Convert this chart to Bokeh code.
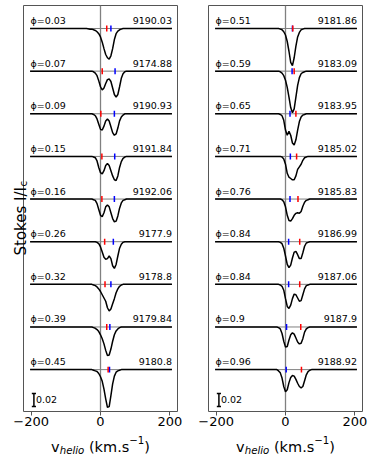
from bokeh.plotting import figure
from bokeh.models import Range1d, FixedTicker, Span, GridBox, Column
from bokeh.core.properties import value
from bokeh.embed import file_html
from bokeh.resources import INLINE

# velocity grid (km/s) on which the profiles are read
velocity = [-203, -40, -30, -25, -20, -15, -10, -5, 0, 5, 10, 15, 20, 25, 30, 35,
            40, 45, 50, 55, 60, 65, 70, 75, 80, 90, 206]

# ---------------- left panel ----------------
left_phase = [0.03, 0.07, 0.09, 0.15, 0.16, 0.26, 0.32, 0.39, 0.45]
left_date = ["9190.03", "9174.88", "9190.93", "9191.84", "9192.06", "9177.9", "9178.8", "9179.84", "9180.8"]
left_red = [18, 5, 1, 4, 4, 12, 13, 18, 22]
left_blue = [30, 42, 40, 41, 40, 37, 30, 27, 26]
left_profiles = [
    [1, 1, 0.999, 0.999, 0.998, 0.997, 0.995, 0.992, 0.987, 0.979, 0.969, 0.960, 0.955, 0.953, 0.958, 0.969, 0.983, 0.992, 0.996, 0.998, 0.999, 1, 1, 1, 1, 1, 1],
    [1, 1, 1, 1, 0.999, 0.997, 0.993, 0.985, 0.976, 0.971, 0.974, 0.981, 0.987, 0.988, 0.984, 0.974, 0.964, 0.960, 0.964, 0.976, 0.989, 0.996, 0.999, 1, 1, 1, 1],
    [1, 1, 1, 1, 0.999, 0.997, 0.992, 0.984, 0.976, 0.975, 0.981, 0.989, 0.992, 0.989, 0.980, 0.971, 0.967, 0.969, 0.978, 0.989, 0.995, 0.998, 1, 1, 1, 1, 1],
    [1, 1, 1, 1, 0.999, 0.998, 0.993, 0.983, 0.975, 0.973, 0.978, 0.986, 0.989, 0.986, 0.978, 0.970, 0.964, 0.963, 0.970, 0.983, 0.992, 0.997, 0.999, 1, 1, 1, 1],
    [1, 1, 1, 1, 0.999, 0.998, 0.993, 0.984, 0.975, 0.973, 0.979, 0.988, 0.991, 0.988, 0.979, 0.970, 0.965, 0.966, 0.974, 0.986, 0.994, 0.998, 0.999, 1, 1, 1, 1],
    [1, 1, 1, 1, 1, 1, 0.999, 0.997, 0.992, 0.984, 0.976, 0.973, 0.974, 0.978, 0.974, 0.963, 0.959, 0.965, 0.978, 0.990, 0.996, 0.999, 1, 1, 1, 1, 1],
    [1, 1, 1, 1, 0.999, 0.998, 0.996, 0.993, 0.989, 0.984, 0.979, 0.974, 0.964, 0.959, 0.962, 0.970, 0.978, 0.987, 0.993, 0.997, 0.999, 1, 1, 1, 1, 1, 1],
    [1, 1, 1, 1, 0.999, 0.998, 0.996, 0.993, 0.988, 0.982, 0.974, 0.964, 0.956, 0.957, 0.966, 0.978, 0.988, 0.994, 0.997, 0.999, 1, 1, 1, 1, 1, 1, 1],
    [1, 1, 1, 1, 0.999, 0.998, 0.997, 0.994, 0.989, 0.982, 0.970, 0.955, 0.942, 0.943, 0.960, 0.978, 0.990, 0.996, 0.998, 0.999, 1, 1, 1, 1, 1, 1, 1],
]

# ---------------- right panel ----------------
right_phase = [0.51, 0.59, 0.65, 0.71, 0.76, 0.84, 0.84, 0.9, 0.96]
right_date = ["9181.86", "9183.09", "9183.95", "9185.02", "9185.83", "9186.99", "9187.06", "9187.9", "9188.92"]
right_red = [21, 25, 30, 32, 36, 41, 41, 44, 46]
right_blue = [20, 19, 13, 14, 13, 9, 9, 3, 2]
right_profiles = [
    [1, 1, 1, 1, 1, 0.999, 0.998, 0.995, 0.990, 0.980, 0.965, 0.948, 0.943, 0.955, 0.973, 0.987, 0.994, 0.998, 0.999, 1, 1, 1, 1, 1, 1, 1, 1],
    [1, 1, 1, 1, 1, 0.999, 0.997, 0.993, 0.986, 0.975, 0.960, 0.944, 0.936, 0.942, 0.960, 0.978, 0.990, 0.996, 0.998, 0.999, 1, 1, 1, 1, 1, 1, 1],
    [1, 1, 1, 1, 1, 0.999, 0.997, 0.990, 0.975, 0.967, 0.973, 0.967, 0.955, 0.952, 0.960, 0.975, 0.988, 0.995, 0.998, 0.999, 1, 1, 1, 1, 1, 1, 1],
    [1, 1, 1, 1, 1, 1, 0.999, 0.996, 0.988, 0.974, 0.968, 0.966, 0.964, 0.964, 0.970, 0.980, 0.984, 0.988, 0.994, 0.998, 0.999, 1, 1, 1, 1, 1, 1],
    [1, 1, 1, 1, 1, 1, 0.999, 0.996, 0.988, 0.975, 0.967, 0.966, 0.970, 0.975, 0.978, 0.979, 0.978, 0.981, 0.989, 0.995, 0.998, 0.999, 1, 1, 1, 1, 1],
    [1, 1, 1, 1, 1, 0.999, 0.997, 0.990, 0.978, 0.965, 0.960, 0.964, 0.975, 0.984, 0.985, 0.980, 0.974, 0.974, 0.983, 0.993, 0.998, 0.999, 1, 1, 1, 1, 1],
    [1, 1, 1, 1, 1, 0.999, 0.997, 0.991, 0.978, 0.966, 0.963, 0.968, 0.978, 0.985, 0.984, 0.979, 0.974, 0.975, 0.984, 0.993, 0.998, 0.999, 1, 1, 1, 1, 1],
    [1, 1, 1, 1, 0.999, 0.997, 0.990, 0.978, 0.969, 0.970, 0.980, 0.988, 0.991, 0.989, 0.983, 0.977, 0.974, 0.975, 0.982, 0.992, 0.997, 0.999, 1, 1, 1, 1, 1],
    [1, 1, 1, 1, 0.998, 0.995, 0.987, 0.974, 0.966, 0.969, 0.980, 0.988, 0.991, 0.990, 0.985, 0.979, 0.974, 0.972, 0.974, 0.983, 0.992, 0.997, 0.999, 1, 1, 1, 1],
]

OFFSET = 0.0656      # vertical shift between successive spectra
SCALE_BAR = 0.02     # length of the intensity scale bar
FONT = "DejaVu Sans"
FRAME_COL = "#555555"

X_RANGE = (-222, 222)
Y_RANGE = (0.41077, 1.03538)
PAGE_W, PAGE_H = 374, 457


def make_panel(phases, dates, reds, blues, profiles, is_left):
    p = figure(frame_width=154, frame_height=406,
               x_range=Range1d(*X_RANGE), y_range=Range1d(*Y_RANGE),
               output_backend="svg", toolbar_location=None,
               min_border_left=23 if is_left else 15,
               min_border_right=16 if is_left else 12,
               min_border_top=5, min_border_bottom=46)
    p.grid.visible = False
    p.yaxis.visible = False
    p.outline_line_color = FRAME_COL
    p.outline_line_width = 1
    p.background_fill_color = "white"
    p.border_fill_color = "white"

    xa = p.xaxis[0]
    xa.ticker = FixedTicker(ticks=[-200, 0, 200])
    xa.major_label_overrides = {-200: "\u2212200"}
    xa.minor_tick_line_color = None
    xa.axis_line_color = None
    xa.major_tick_in = 0
    xa.major_tick_out = 4
    xa.major_tick_line_color = FRAME_COL
    xa.major_label_text_font = FONT
    xa.major_label_text_font_size = "13px"
    xa.major_label_text_color = "black"
    xa.major_label_standoff = 1

    p.add_layout(Span(location=0, dimension="height", line_color="gray",
                      line_width=1.3, level="underlay"))

    for k, (ph, dt, r, b, prof) in enumerate(zip(phases, dates, reds, blues, profiles)):
        base = 1 - k * OFFSET
        p.line([velocity[0], velocity[-1]], [base, base], line_color="gray", line_width=1)
        p.line(velocity, [v - k * OFFSET for v in prof], line_color="black", line_width=1.5)
        p.segment(x0=[b], y0=[base - 0.0046], x1=[b], y1=[base + 0.0046],
                  line_color="blue", line_width=1.5)
        p.segment(x0=[r], y0=[base - 0.0046], x1=[r], y1=[base + 0.0046],
                  line_color="red", line_width=1.5)
        p.text(x=[-202], y=[base + 0.0123], text=["\u03d5=" + str(ph)],
               text_font=value(FONT), text_font_size="9.5px", text_color="black",
               text_align="left", text_baseline="alphabetic")
        p.text(x=[206], y=[base + 0.0123], text=[dt],
               text_font=value(FONT), text_font_size="9.5px", text_color="black",
               text_align="right", text_baseline="alphabetic")

    # intensity scale bar
    bx = -192
    b0 = 0.4185
    b1 = b0 + SCALE_BAR
    p.segment(x0=[bx, bx - 6, bx - 6], y0=[b0, b0, b1], x1=[bx, bx + 6, bx + 6], y1=[b1, b0, b1],
              line_color="black", line_width=1.5)
    p.text(x=[bx + 6], y=[(b0 + b1) / 2], text=["0.02"], text_font=value(FONT),
           text_font_size="9.5px", text_color="black", text_align="left", text_baseline="middle")
    return p


p1 = make_panel(left_phase, left_date, left_red, left_blue, left_profiles, True)
p2 = make_panel(right_phase, right_date, right_red, right_blue, right_profiles, False)

# transparent overlay carrying the axis titles (page pixel coordinates, y upward)
ov = figure(width=PAGE_W, height=PAGE_H, x_range=Range1d(0, PAGE_W), y_range=Range1d(0, PAGE_H),
            output_backend="svg", toolbar_location=None, min_border=0,
            x_axis_type=None, y_axis_type=None)
ov.grid.visible = False
ov.outline_line_color = None
ov.background_fill_color = None
ov.border_fill_color = None

overlay_child = ov
try:
    ov.frame_align = False
except AttributeError:
    overlay_child = Column(children=[ov])


def put(txt, px, py, size, style="normal", angle=0.0):
    ov.text(x=[px], y=[PAGE_H - py], text=[txt], angle=angle,
            text_font=value(FONT), text_font_size=size, text_font_style=style,
            text_color="black", text_align="left", text_baseline="alphabetic")


for c in (100, 285):
    put("v", c - 49.4, 446, "14.5px")
    put("helio", c - 40.8, 449.5, "10.2px", "italic")
    put("(km.s", c - 11.55, 446, "14.5px")
    put("\u22121", c + 28.8, 439.5, "10.2px")
    put(")", c + 43.8, 446, "14.5px")

put("Stokes I/I", 20, 255, "15px", angle=1.5707963)
put("c", 22.5, 186, "10.5px", angle=1.5707963)

layout = GridBox(children=[(p1, 0, 0), (p2, 0, 1), (overlay_child, 0, 0, 1, 2)])
open("out.html", "w").write(file_html(layout, INLINE))
